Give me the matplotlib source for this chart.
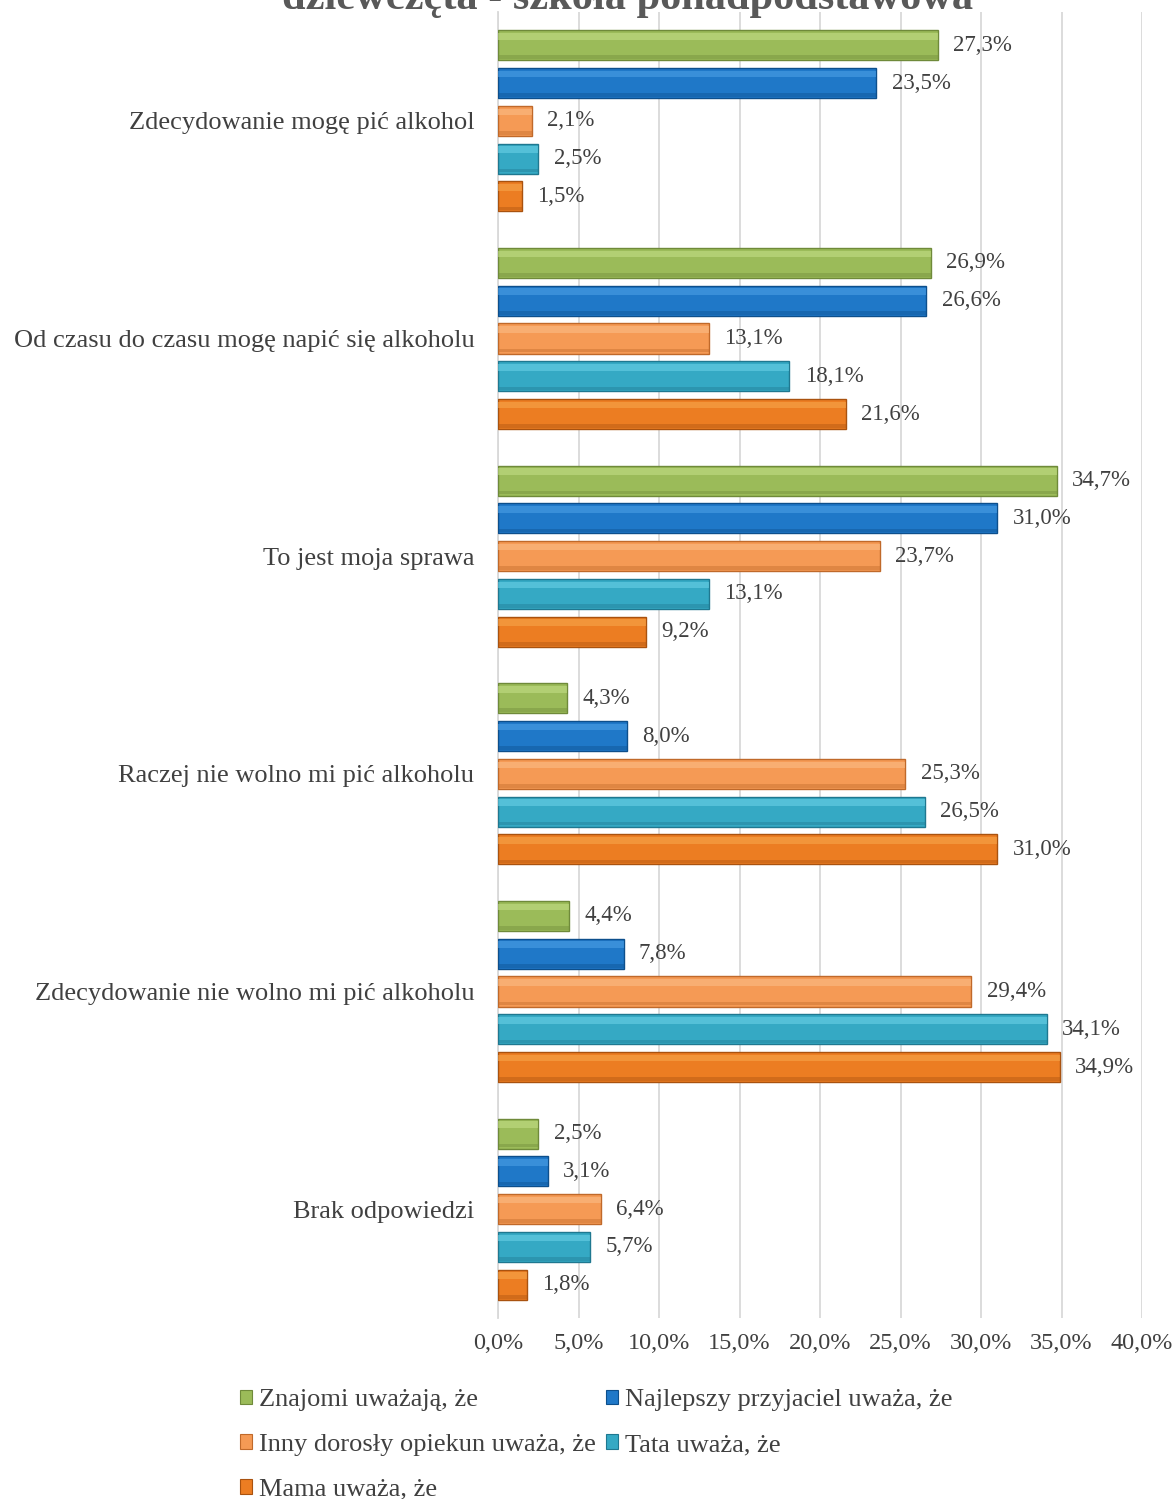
import numpy as np
import matplotlib
matplotlib.use("Agg")
from matplotlib import pyplot as plt
from matplotlib.patches import Patch

plt.rcParams['font.family'] = ['Liberation Serif', 'DejaVu Serif']

# data
categories = ["Zdecydowanie mogę pić alkohol",
              "Od czasu do czasu mogę napić się alkoholu",
              "To jest moja sprawa",
              "Raczej nie wolno mi pić alkoholu",
              "Zdecydowanie nie wolno mi pić alkoholu",
              "Brak odpowiedzi"]
series_names = ["Znajomi uważają, że",
                "Najlepszy przyjaciel uważa, że",
                "Inny dorosły opiekun uważa, że",
                "Tata uważa, że",
                "Mama uważa, że"]
znajomi = [27.3, 26.9, 34.7, 4.3, 4.4, 2.5]
przyjaciel = [23.5, 26.6, 31.0, 8.0, 7.8, 3.1]
inny = [2.1, 13.1, 23.7, 25.3, 29.4, 6.4]
tata = [2.5, 18.1, 13.1, 26.5, 34.1, 5.7]
mama = [1.5, 21.6, 9.2, 31.0, 34.9, 1.8]
series = [znajomi, przyjaciel, inny, tata, mama]

# (main, light, dark)
colors = [("#9bbb59", "#c6e08a", "#6f8a3a"),
          ("#1f78c8", "#4fa3e8", "#0d4f8c"),
          ("#f59a55", "#fbc08a", "#c0692a"),
          ("#35a9c4", "#6fd4ea", "#1f7890"),
          ("#ec7d22", "#f8a94f", "#a9520f")]

fig = plt.figure(figsize=(11.75, 14.99), dpi=100)
ax = fig.add_axes([498/1175, 1 - 1318/1499, 644/1175, 1306/1499])

y = np.arange(len(categories))
step = 0.1737
bh = 0.138
txt = "#404040"

for i, vals in enumerate(series):
    main, light, dark = colors[i]
    pos = y + (i - 2) * step
    ax.barh(pos, vals, height=bh, color=main, edgecolor=dark, linewidth=1.0, zorder=3)
    # bevel highlight / shadow
    ax.barh(pos - bh * 0.3, vals, height=bh * 0.22, color=light, alpha=0.55,
            linewidth=0, zorder=4)
    ax.barh(pos + bh * 0.4, vals, height=bh * 0.12, color=dark, alpha=0.4,
            linewidth=0, zorder=4)
    for p, v in zip(pos, vals):
        ax.text(v + 0.95, p, f"{v:.1f}%".replace(".", ","), va="center", ha="left",
                fontsize=16.5, color=txt, zorder=5)

ax.set_xlim(0, 40)
ax.set_ylim(len(categories) - 0.5, -0.5)
ax.set_xticks(np.arange(0, 41, 5))
ax.set_xticklabels([f"{t:.1f}%".replace(".", ",") for t in np.arange(0, 41, 5)],
                   fontsize=17.5, color=txt)
ax.set_yticks(y)
ax.set_yticklabels(categories, fontsize=19, color=txt)
ax.tick_params(axis="both", length=0)
ax.tick_params(axis="y", pad=17)
ax.tick_params(axis="x", pad=11)
ax.grid(axis="x", color="#d9d9d9", linewidth=1.3, zorder=0)
for s in ["top", "right", "bottom"]:
    ax.spines[s].set_visible(False)
ax.spines["left"].set_color("#d9d9d9")
ax.spines["left"].set_linewidth(1.3)

fig.text(628/1175, 1 - 9/1499, "dziewczęta - szkoła ponadpodstawowa", ha="center",
         va="baseline", fontsize=30.5, fontweight="bold", color="#595959")

handles = [Patch(facecolor=c[0], edgecolor=c[2], linewidth=0.8) for c in colors]
order = [0, 2, 4, 1, 3]
leg = fig.legend([handles[k] for k in order], [series_names[k] for k in order],
                 ncol=2, loc="upper left", bbox_to_anchor=(240/1175, 1 - 1389/1499),
                 frameon=False, fontsize=19, handlelength=0.45, handleheight=0.45,
                 handletextpad=0.27, columnspacing=0.4, labelspacing=0.87,
                 borderpad=0, borderaxespad=0)
for t in leg.get_texts():
    t.set_color(txt)

fig.savefig("out.png", dpi=100)
